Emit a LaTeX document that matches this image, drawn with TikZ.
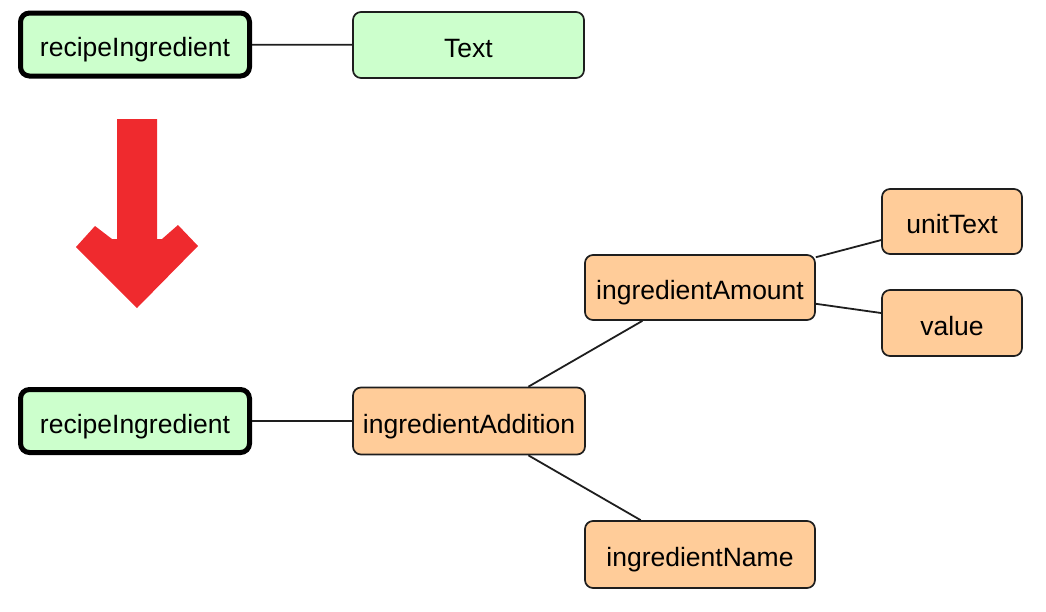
\documentclass[tikz,border=0pt]{standalone}
\usepackage{fontspec}
\setmainfont{Liberation Sans}
\definecolor{greenfill}{HTML}{CCFFCC}
\definecolor{orangefill}{HTML}{FFCC99}
\definecolor{bordergray}{HTML}{1E1E1E}
\definecolor{arrowred}{HTML}{EF2A2E}
\begin{document}
\begin{tikzpicture}[x=1pt,y=-1pt,
  box/.style={draw=bordergray, line width=1.7pt, rounded corners=8pt, inner sep=0pt, align=center,
    text height=24pt, text depth=0pt,
    font=\fontsize{26.5}{30}\selectfont},
  gbox/.style={box, fill=greenfill},
  obox/.style={box, fill=orangefill},
  rootbox/.style={gbox, draw=black, line width=5pt, rounded corners=9pt},
  conn/.style={draw=bordergray, line width=1.8pt}]
\useasboundingbox (0,0) rectangle (1046,611);
% top row
\node[rootbox, minimum width=229pt, minimum height=63pt] (rtop) at (135,44.5) {recipeIngredient};
\node[gbox, minimum width=231pt, minimum height=66pt] (text) at (468.5,45) {Text};
\draw[conn] (rtop) -- (text);
% red arrow
\fill[arrowred] (117,119) -- (157,119) -- (157,239) -- (162,239) -- (178,225) -- (198,246)
  -- (137,308) -- (76,247) -- (95,226) -- (112,239) -- (117,239) -- cycle;
% bottom tree
\node[rootbox, minimum width=229pt, minimum height=63pt] (rbot) at (135,421) {recipeIngredient};
\node[obox, minimum width=232pt, minimum height=67pt] (add) at (469,421) {ingredientAddition};
\node[obox, minimum width=230pt, minimum height=65pt] (amt) at (700,287.5) {ingredientAmount};
\node[obox, minimum width=140pt, minimum height=65pt] (unit) at (952,221.5) {unitText};
\node[obox, minimum width=140pt, minimum height=66pt] (val) at (952,323) {value};
\node[obox, minimum width=230pt, minimum height=67pt] (name) at (700,554.5) {ingredientName};
\draw[conn] (rbot) -- (add);
\draw[conn] (add) -- (amt);
\draw[conn] (add) -- (name);
\draw[conn] (amt) -- (unit);
\draw[conn] (amt) -- (val);
\end{tikzpicture}
\end{document}
